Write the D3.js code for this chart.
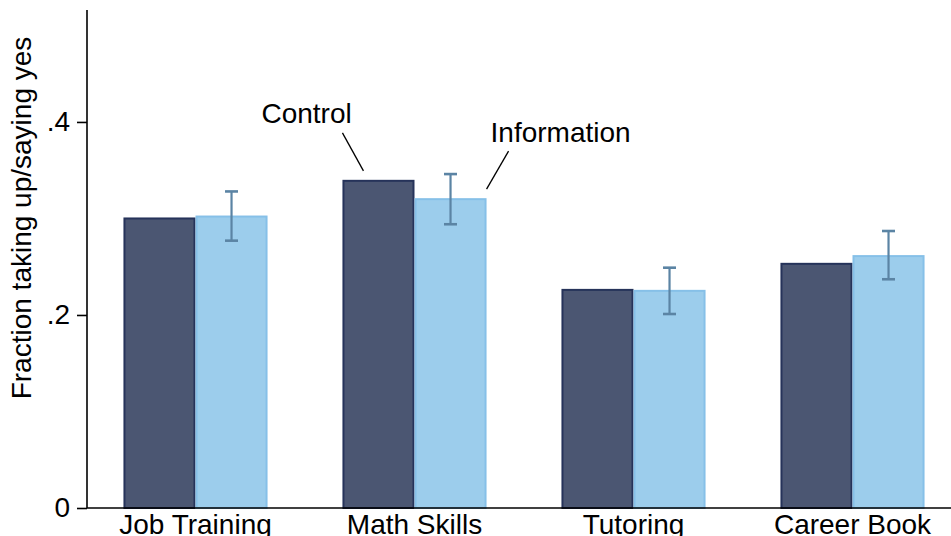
<!DOCTYPE html>
<html>
<head>
<meta charset="utf-8">
<script src="https://cdn.jsdelivr.net/npm/d3@7"></script>
<style>
  html, body { margin: 0; padding: 0; background: #fff; }
  svg { display: block; font-family: "Liberation Sans", Arial, sans-serif; }
</style>
</head>
<body>
<svg id="chart" width="951" height="536"></svg>
<script>
// Take-up by offer type, control vs. information arm
const categories = ["Job Training", "Math Skills", "Tutoring", "Career Book"];
const series = ["Control", "Information"];
const controlValues = [0.300, 0.339, 0.226, 0.253];
const infoValues = [0.302, 0.320, 0.225, 0.261];
const infoCiLow = [0.277, 0.294, 0.201, 0.237];
const infoCiHigh = [0.328, 0.346, 0.249, 0.287];
const yTicks = [0, 0.2, 0.4];
const yTickLabels = ["0", ".2", ".4"];

const svg = d3.select("#chart");
const W = 951, H = 536;
const FS = 28;

const y = d3.scaleLinear().domain([0, 0.516]).range([508, 10]);
const x = d3.scaleBand().domain(categories).range([86, 962])
  .paddingInner(0.342).paddingOuter(0.171);
const xs = d3.scaleBand().domain(series).range([0, x.bandwidth()]);

const colors = {
  Control: { fill: "#4b5672", stroke: "#26335a" },
  Information: { fill: "#9ccdec", stroke: "#86c0e8" }
};

const rows = categories.map((c, i) => ({
  cat: c,
  Control: controlValues[i],
  Information: infoValues[i],
  lo: infoCiLow[i],
  hi: infoCiHigh[i]
}));

// Bars
const g = svg.append("g");
rows.forEach(r => {
  series.forEach(s => {
    g.append("rect")
      .attr("x", x(r.cat) + xs(s) + 1)
      .attr("y", y(r[s]))
      .attr("width", xs.bandwidth() - 2)
      .attr("height", y(0) - y(r[s]))
      .attr("fill", colors[s].fill)
      .attr("stroke", colors[s].stroke)
      .attr("stroke-width", 2);
  });
});

// Confidence intervals on the information arm
const eb = svg.append("g").attr("stroke", "#5b84a4").attr("stroke-width", 2.2);
rows.forEach(r => {
  const cx = x(r.cat) + xs("Information") + xs.bandwidth() / 2;
  eb.append("line").attr("x1", cx).attr("x2", cx).attr("y1", y(r.hi)).attr("y2", y(r.lo));
  [r.hi, r.lo].forEach(v => {
    eb.append("line").attr("x1", cx - 6.5).attr("x2", cx + 6.5).attr("y1", y(v)).attr("y2", y(v)).attr("stroke-width", 2.6);
  });
});

// Y axis
const yAxis = d3.axisLeft(y).tickValues(yTicks)
  .tickFormat((d, i) => yTickLabels[i]).tickSize(10).tickPadding(7);
const ya = svg.append("g").attr("transform", "translate(87,0)").call(yAxis);
ya.select(".domain").attr("d", `M0,${y(0.516)}V${y(0)}`).attr("stroke", "#000").attr("stroke-width", 1.6);
ya.selectAll(".tick line").attr("stroke", "#000").attr("stroke-width", 1.6);
ya.selectAll(".tick text").attr("font-size", FS).attr("fill", "#000")
  .attr("font-family", "Liberation Sans, Arial, sans-serif");

// X axis
const xAxis = d3.axisBottom(x).tickSize(0).tickPadding(6);
const xa = svg.append("g").attr("transform", `translate(0,${y(0)})`).call(xAxis);
xa.select(".domain").attr("d", `M87,0H${W}`).attr("stroke", "#000").attr("stroke-width", 1.6);
xa.selectAll(".tick text").attr("font-size", FS).attr("fill", "#000")
  .attr("font-family", "Liberation Sans, Arial, sans-serif")
  .attr("dy", "0.71em");

// Y axis title
svg.append("text")
  .attr("transform", `translate(31,${(38 + 398) / 2}) rotate(-90)`)
  .attr("text-anchor", "middle")
  .attr("font-size", FS)
  .attr("fill", "#000")
  .text("Fraction taking up/saying yes");

// Series annotations on the Math Skills pair
const ann = svg.append("g");
const mCat = categories[1];
const ctrlX = x(mCat) + xs("Control");
const infoX = x(mCat) + xs("Information");
ann.append("line")
  .attr("x1", ctrlX) .attr("y1", y(controlValues[1]) - 48)
  .attr("x2", ctrlX + 21).attr("y2", y(controlValues[1]) - 10)
  .attr("stroke", "#000").attr("stroke-width", 1.3);
ann.append("text")
  .attr("x", ctrlX - 81).attr("y", y(controlValues[1]) - 58)
  .attr("font-size", FS).attr("fill", "#000")
  .text(series[0]);
ann.append("line")
  .attr("x1", infoX + xs.bandwidth() + 22).attr("y1", y(infoValues[1]) - 48)
  .attr("x2", infoX + xs.bandwidth()).attr("y2", y(infoValues[1]) - 10)
  .attr("stroke", "#000").attr("stroke-width", 1.3);
ann.append("text")
  .attr("x", infoX + xs.bandwidth() + 4).attr("y", y(infoValues[1]) - 57)
  .attr("font-size", FS).attr("fill", "#000")
  .text(series[1]);
</script>
</body>
</html>
